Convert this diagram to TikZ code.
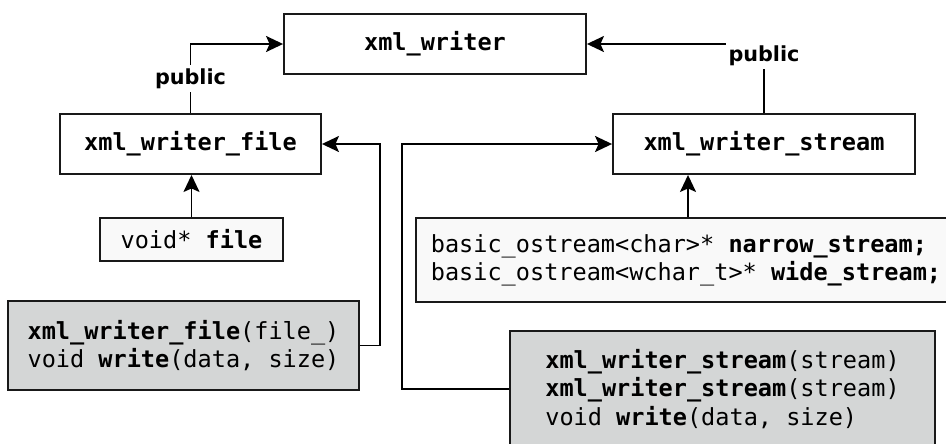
\documentclass[tikz,border=0pt]{standalone}
\usepackage{fontspec}
\setmainfont{DejaVu Sans}
\setmonofont{DejaVu Sans Mono}
\usetikzlibrary{arrows.meta}
\definecolor{opsgray}{HTML}{D4D6D6}
\definecolor{varfill}{HTML}{F9F9F9}

\begin{document}
\begin{tikzpicture}[x=0.02cm,y=-0.02cm]
    \tikzset{
    cls/.style={draw=black!90,line width=1.1pt,fill=white,minimum height=1.2cm,font=\fontsize{13.4}{16}\selectfont\ttfamily\bfseries},
    var/.style={draw=black!90,line width=1.1pt,fill=varfill,align=left,font=\fontsize{13.4}{16}\selectfont\ttfamily},
    ops/.style={draw=black!90,line width=1.1pt,fill=opsgray,align=left,font=\fontsize{13.4}{16}\selectfont\ttfamily},
    c1/.style={line width=1.1pt,-{Stealth[length=0.34cm,width=0.32cm,inset=0.07cm]}},
    lbl/.style={fill=white,inner sep=0.06cm,font=\fontsize{11.8}{14}\selectfont\bfseries},
    }
    \useasboundingbox[fill=white] (0,0) rectangle (946,443);
    \node[cls,minimum width=6.04cm] (w) at (435,44) {xml\_writer};
    \node[cls,minimum width=5.22cm] (wf) at (190.5,144) {xml\_writer\_file};
    \node[cls,minimum width=6.04cm] (ws) at (764,144) {xml\_writer\_stream};
    \node[var,minimum width=3.66cm,minimum height=0.86cm] (fv) at (191.5,239.5) {void* \textbf{file}};
    \node[var,minimum width=10.8cm,minimum height=1.68cm] (sv) at (686,260) {basic\_ostream<char>* \textbf{narrow\_stream;}\\basic\_ostream<wchar\_t>* \textbf{wide\_stream;}};
    \node[ops,minimum width=7.02cm,minimum height=1.78cm] (fo) at (183.5,345.5) {\textbf{xml\_writer\_file}(file\_)\\void \textbf{write}(data, size)};
    \node[ops,minimum width=8.5cm,minimum height=2.32cm] (so) at (722.5,389) {\textbf{xml\_writer\_stream}(stream)\\\textbf{xml\_writer\_stream}(stream)\\void \textbf{write}(data, size)};

    \draw[c1] (wf.north) |- node[lbl,pos=0.25] {public} (w.west);
    \draw[c1] (ws.north) |- node[lbl,pos=0.5,yshift=-0.24cm] {public} (w.east);
    \draw[c1] (fv.north) -- (fv.north |- wf.south);
    \draw[c1] ([xshift=0.04cm]sv.north) -- ([xshift=0.04cm]sv.north |- ws.south);
    \draw[c1] (fo.east) -- ++(20,0) |- (wf.east);
    \draw[c1] (so.west) -- ++(-107,0) |- (ws.west);
\end{tikzpicture}
\end{document}
